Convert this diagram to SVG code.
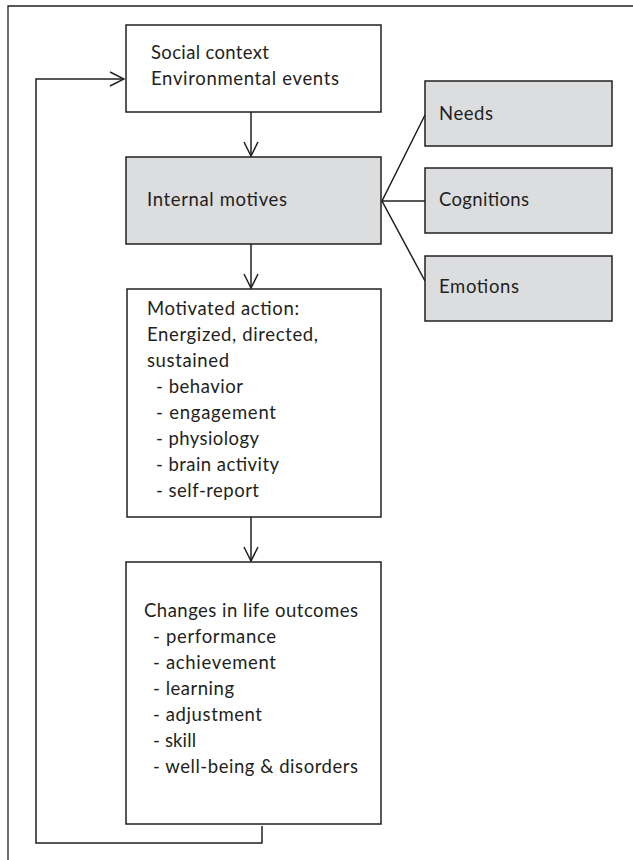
<svg xmlns="http://www.w3.org/2000/svg" width="633" height="860" viewBox="0 0 633 860">
<style>
.box{fill:#fff;stroke:#231f20;stroke-width:1.5}
.grey{fill:#dcdddf;stroke:#231f20;stroke-width:1.5}
.t{font-family:Lato,"Open Sans",sans-serif;font-size:18.5px;fill:#231f20}
.c{fill:none;stroke:#231f20;stroke-width:1.5}
</style>
<defs>
<marker id="arr" viewBox="0 0 16 16" refX="15" refY="8" markerWidth="16" markerHeight="16" markerUnits="userSpaceOnUse" orient="auto">
<path d="M1,1 L15,8 L1,15" fill="none" stroke="#231f20" stroke-width="1.5"/>
</marker>
</defs>
<rect width="633" height="860" fill="#fff"/>
<g id="frame">
<path d="M8,860 L8,6 L633,6" fill="none" stroke="#231f20" stroke-width="1.3"/>
</g>
<g id="connectors">
<path class="c" d="M251,112 L251,156" marker-end="url(#arr)"/>
<path class="c" d="M251,244 L251,288" marker-end="url(#arr)"/>
<path class="c" d="M251,517 L251,561" marker-end="url(#arr)"/>
<path class="c" d="M262,826 L262,843 L36,843 L36,79 L124,79" marker-end="url(#arr)"/>
<path class="c" d="M425,115 L382,201 L425,281 M382,201 L425,201"/>
</g>
<g id="social">
<rect class="box" x="126" y="25" width="255" height="87"/>
<text class="t" x="151" y="59" textLength="118" lengthAdjust="spacing">Social context</text>
<text class="t" x="151" y="85" textLength="188" lengthAdjust="spacing">Environmental events</text>
</g>
<g id="internal">
<rect class="grey" x="126" y="157" width="255" height="87"/>
<text class="t" x="147" y="206" textLength="140" lengthAdjust="spacing">Internal motives</text>
</g>
<g id="needs">
<rect class="grey" x="425" y="81" width="187" height="65"/>
<text class="t" x="439" y="120" textLength="54" lengthAdjust="spacing">Needs</text>
</g>
<g id="cognitions">
<rect class="grey" x="425" y="168" width="187" height="65"/>
<text class="t" x="439" y="206" textLength="90" lengthAdjust="spacing">Cognitions</text>
</g>
<g id="emotions">
<rect class="grey" x="425" y="256" width="187" height="65"/>
<text class="t" x="439" y="293" textLength="80" lengthAdjust="spacing">Emotions</text>
</g>
<g id="action">
<rect class="box" x="127" y="289" width="254" height="228"/>
<text class="t" x="147" y="315" textLength="152" lengthAdjust="spacing">Motivated action:</text>
<text class="t" x="147" y="341" textLength="171" lengthAdjust="spacing">Energized, directed,</text>
<text class="t" x="147" y="367" textLength="82" lengthAdjust="spacing">sustained</text>
<text class="t" x="156" y="393" textLength="87" lengthAdjust="spacing">- behavior</text>
<text class="t" x="156" y="419" textLength="120" lengthAdjust="spacing">- engagement</text>
<text class="t" x="156" y="445" textLength="103" lengthAdjust="spacing">- physiology</text>
<text class="t" x="156" y="471" textLength="123" lengthAdjust="spacing">- brain activity</text>
<text class="t" x="156" y="497" textLength="103" lengthAdjust="spacing">- self-report</text>
</g>
<g id="outcomes">
<rect class="box" x="126" y="562" width="255" height="262"/>
<text class="t" x="144" y="617" textLength="214" lengthAdjust="spacing">Changes in life outcomes</text>
<text class="t" x="153" y="643" textLength="123" lengthAdjust="spacing">- performance</text>
<text class="t" x="153" y="669" textLength="123" lengthAdjust="spacing">- achievement</text>
<text class="t" x="153" y="695" textLength="81" lengthAdjust="spacing">- learning</text>
<text class="t" x="153" y="721" textLength="109" lengthAdjust="spacing">- adjustment</text>
<text class="t" x="153" y="747" textLength="43" lengthAdjust="spacing">- skill</text>
<text class="t" x="153" y="773" textLength="205" lengthAdjust="spacing">- well-being &amp; disorders</text>
</g>
</svg>
